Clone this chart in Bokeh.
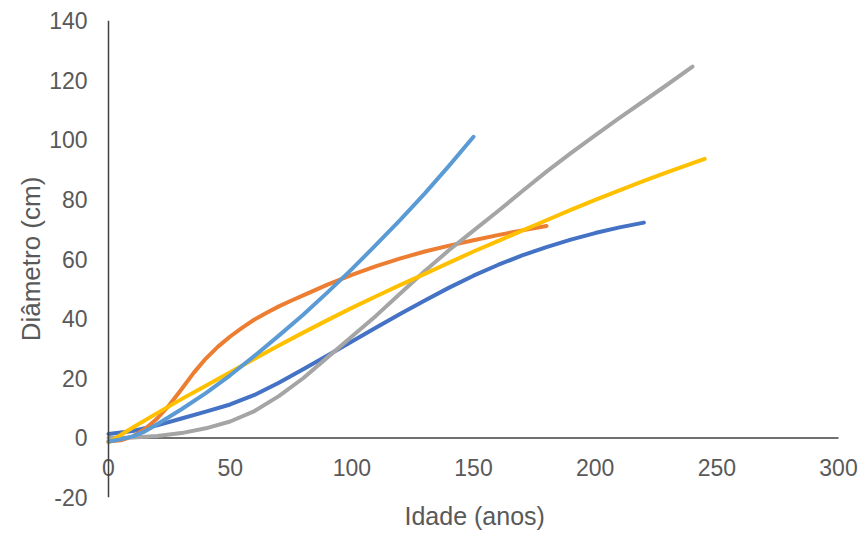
from bokeh.plotting import figure
from bokeh.models import LinearAxis, SingleIntervalTicker, FixedTicker, Range1d, Title
from bokeh.embed import file_html
from bokeh.resources import INLINE

# ---- data ----
x_ticks_interval = 50
x_axis_bounds = (0, 300)
y_ticks_interval = 20
y_axis_bounds = (-20, 140)

age_darkblue = [0, 10, 20, 30, 40, 50, 60, 70, 80, 90, 100, 110, 120, 130, 140, 150, 160, 170, 180, 190, 200, 210, 220]
diam_darkblue = [1.3, 2.3, 4.2, 6.5, 8.8, 11.2, 14.4, 18.5, 23, 27.6, 32.3, 37, 41.6, 46.1, 50.4, 54.4, 58, 61.2, 64, 66.5, 68.7, 70.6, 72.2]

age_orange = [0, 5, 10, 15, 20, 25, 30, 35, 40, 45, 50, 55, 60, 65, 70, 75, 80, 90, 100, 110, 120, 130, 140, 150, 160, 170, 180]
diam_orange = [-1.2, -0.8, 0.5, 3, 6.5, 11, 16.3, 21.8, 26.6, 30.6, 34, 37, 39.7, 42, 44.1, 46, 47.8, 51.4, 54.7, 57.6, 60.2, 62.5, 64.5, 66.3, 68, 69.6, 71.1]

age_gray = [0, 10, 20, 30, 40, 50, 60, 70, 80, 90, 100, 110, 120, 130, 140, 150, 160, 170, 180, 190, 200, 210, 220, 230, 240]
diam_gray = [0, 0.1, 0.6, 1.6, 3.2, 5.5, 9, 14, 20, 27, 34, 41, 48.5, 56, 63, 69.5, 76, 82.7, 89.3, 95.5, 101.5, 107.3, 113, 118.7, 124.5]

age_yellow = [0, 10, 20, 30, 40, 50, 60, 70, 80, 90, 100, 110, 120, 130, 140, 150, 160, 170, 180, 190, 200, 210, 220, 230, 245]
diam_yellow = [-1.5, 3.5, 8.3, 13, 17.5, 22, 26.5, 31, 35.3, 39.5, 43.6, 47.5, 51.3, 55, 58.8, 62.5, 66, 69.5, 73, 76.5, 79.8, 83, 86.2, 89.2, 93.6]

age_lightblue = [0, 5, 10, 15, 20, 25, 30, 40, 50, 60, 70, 80, 90, 100, 110, 120, 130, 140, 150]
diam_lightblue = [-1.2, -0.5, 0.5, 2.2, 4.6, 7.1, 9.6, 15, 21, 27.5, 34.3, 41.3, 48.8, 56.6, 64.8, 73.2, 82, 91.3, 101]

series = [
    (age_darkblue, diam_darkblue, "#4472C4"),
    (age_orange, diam_orange, "#ED7D31"),
    (age_gray, diam_gray, "#A5A5A5"),
    (age_yellow, diam_yellow, "#FFC000"),
    (age_lightblue, diam_lightblue, "#5B9BD5"),
]

TXT = "#595959"
FONT = "Liberation Sans"
AXIS_COLOR = "#404040"

# frame is a little wider than 0..300 so the end tick labels are not clipped
p = figure(width=865, height=537,
           x_range=Range1d(-3.29, 309.86), y_range=Range1d(-20, 140),
           output_backend="svg", toolbar_location=None,
           x_axis_type=None, y_axis_type=None,
           min_border_left=100, min_border_right=3,
           min_border_top=20, min_border_bottom=40)
p.outline_line_color = None
p.background_fill_color = "white"
p.border_fill_color = "white"

# x axis crossing at y = 0: tick labels from the axis, line as a segment over the axis bounds
xaxis = LinearAxis(ticker=SingleIntervalTicker(interval=x_ticks_interval),
                   fixed_location=0, bounds=x_axis_bounds)
# y axis line crossing at x = 0
yline = LinearAxis(ticker=FixedTicker(ticks=[]), fixed_location=0, bounds=y_axis_bounds)
# y tick labels and title
yaxis = LinearAxis(ticker=SingleIntervalTicker(interval=y_ticks_interval),
                   axis_label="Diâmetro (cm)", bounds=y_axis_bounds,
                   major_label_overrides={-20: "-20"})

for ax in (xaxis, yline, yaxis):
    ax.major_tick_line_color = None
    ax.minor_tick_line_color = None
    ax.axis_line_color = AXIS_COLOR
    ax.axis_line_width = 1.5
    ax.major_label_text_font = FONT
    ax.major_label_text_font_size = "23px"
    ax.major_label_text_color = TXT
    ax.major_label_standoff = 15
    ax.axis_label_text_color = TXT
    ax.axis_label_text_font = FONT
    ax.axis_label_text_font_style = "normal"

xaxis.axis_line_color = None
yaxis.axis_line_color = None
yaxis.major_label_standoff = 7
yaxis.axis_label_text_font_size = "26px"
yaxis.axis_label_standoff = 0

p.add_layout(xaxis, "below")
p.add_layout(yline, "left")
p.add_layout(yaxis, "left")

# x title under the plot area, centred under the 0..300 span
p.add_layout(Title(text="Idade (anos)", align="left", offset=304, vertical_align="top",
                   standoff=9, text_font=FONT, text_font_size="25px",
                   text_font_style="normal", text_color=TXT), "below")

# x axis line
p.segment(x0=[x_axis_bounds[0]], y0=[0], x1=[x_axis_bounds[1]], y1=[0],
          line_color=AXIS_COLOR, line_width=1.5)

for xs, ys, col in series:
    p.line(xs, ys, line_color=col, line_width=4, line_cap="round", line_join="round")

open("out.html", "w").write(file_html(p, INLINE))
